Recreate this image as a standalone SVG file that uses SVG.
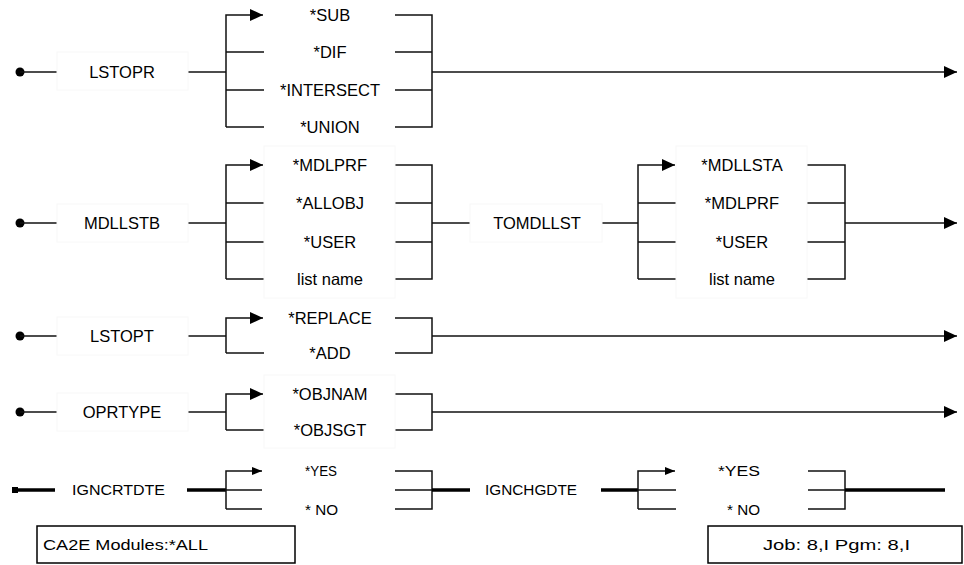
<svg xmlns="http://www.w3.org/2000/svg" width="964" height="565" viewBox="0 0 964 565">
<style>
  .bg { fill: #ffffff; }
  .lbl { font-family: "Liberation Sans", Arial, sans-serif; font-size: 16.5px; fill: #000; text-anchor: middle; }
  .px { font-family: "Liberation Sans", Arial, sans-serif; font-size: 14px; fill: #000; }
  .box { fill: #ffffff; stroke: #f8f8f8; stroke-width: 1; }
  .ln { fill: none; stroke: #111; stroke-width: 1.5; }
  .thick { fill: none; stroke: #000; stroke-width: 3.5; }
  .frame { fill: #ffffff; stroke: #000; stroke-width: 1.5; }
</style>
<defs>
  <marker id="arr" markerUnits="userSpaceOnUse" markerWidth="13" markerHeight="12" refX="13" refY="6" orient="auto">
    <path d="M0,0 L13,6 L0,12 z" fill="#000"/>
  </marker>
  <marker id="arrs" markerUnits="userSpaceOnUse" markerWidth="10" markerHeight="8" refX="10" refY="4" orient="auto">
    <path d="M0,0 L10,4 L0,8 z" fill="#000"/>
  </marker>
</defs>
<rect class="bg" x="0" y="0" width="964" height="565"/>

<g id="connectors">
  <!-- Row 1 LSTOPR -->
  <circle cx="20" cy="72" r="4.5" fill="#000"/>
  <path class="ln" d="M20,72 H57"/>
  <path class="ln" d="M188,72 H226"/>
  <path class="ln" d="M226,127 V15 H263" marker-end="url(#arr)"/>
  <path class="ln" d="M226,52 H264 M226,90 H264 M226,127 H264"/>
  <path class="ln" d="M395,15 H432 V127 H395 M395,52 H432 M395,90 H432"/>
  <path class="ln" d="M432,72 H957" marker-end="url(#arr)"/>

  <!-- Row 2 MDLLSTB / TOMDLLST -->
  <circle cx="20" cy="223" r="4.5" fill="#000"/>
  <path class="ln" d="M20,223 H57"/>
  <path class="ln" d="M188,223 H226"/>
  <path class="ln" d="M226,279 V165 H263" marker-end="url(#arr)"/>
  <path class="ln" d="M226,203 H264 M226,242 H264 M226,279 H264"/>
  <path class="ln" d="M395,165 H432 V279 H395 M395,203 H432 M395,242 H432"/>
  <path class="ln" d="M432,223 H470"/>
  <path class="ln" d="M602,223 H638"/>
  <path class="ln" d="M638,279 V165 H675" marker-end="url(#arr)"/>
  <path class="ln" d="M638,203 H676 M638,242 H676 M638,279 H676"/>
  <path class="ln" d="M807,165 H845 V279 H807 M807,203 H845 M807,242 H845"/>
  <path class="ln" d="M845,223 H957" marker-end="url(#arr)"/>

  <!-- Row 3 LSTOPT -->
  <circle cx="20" cy="336" r="4.5" fill="#000"/>
  <path class="ln" d="M20,336 H57"/>
  <path class="ln" d="M188,336 H226"/>
  <path class="ln" d="M226,353 V318 H263" marker-end="url(#arr)"/>
  <path class="ln" d="M226,353 H264"/>
  <path class="ln" d="M395,318 H432 V353 H395"/>
  <path class="ln" d="M432,336 H957" marker-end="url(#arr)"/>

  <!-- Row 4 OPRTYPE -->
  <circle cx="20" cy="412" r="4.5" fill="#000"/>
  <path class="ln" d="M20,412 H57"/>
  <path class="ln" d="M188,412 H226"/>
  <path class="ln" d="M226,430 V394 H263" marker-end="url(#arr)"/>
  <path class="ln" d="M226,430 H264"/>
  <path class="ln" d="M395,394 H432 V430 H395"/>
  <path class="ln" d="M432,412 H957" marker-end="url(#arr)"/>

  <!-- Row 5 IGNCRTDTE / IGNCHGDTE -->
  <rect x="12" y="487" width="6" height="6" fill="#000"/>
  <path class="thick" d="M15,490 H55"/>
  <path class="thick" d="M187,490 H226"/>
  <path class="ln" d="M226,509 V471 H262" marker-end="url(#arrs)"/>
  <path class="ln" d="M226,490 H262 M226,509 H262"/>
  <path class="ln" d="M395,471 H432 V509 H395 M395,490 H432"/>
  <path class="thick" d="M432,490 H470"/>
  <path class="thick" d="M601,490 H638"/>
  <path class="ln" d="M638,509 V471 H675" marker-end="url(#arrs)"/>
  <path class="ln" d="M638,490 H676 M638,509 H676"/>
  <path class="ln" d="M808,471 H845 V509 H808 M808,490 H845"/>
  <path class="thick" d="M845,490 H945"/>
</g>

<g id="node-lstopr">
  <rect class="box" x="57" y="52" width="131" height="38"/>
  <text class="lbl" x="122" y="78">LSTOPR</text>
</g>
<g id="node-lstopr-values">
  <text class="lbl" x="330" y="21">*SUB</text>
  <text class="lbl" x="330" y="58">*DIF</text>
  <text class="lbl" x="330" y="96">*INTERSECT</text>
  <text class="lbl" x="330" y="133">*UNION</text>
</g>

<g id="node-mdllstb">
  <rect class="box" x="57" y="204" width="131" height="38"/>
  <text class="lbl" x="122" y="229">MDLLSTB</text>
</g>
<g id="node-mdllstb-values">
  <rect class="box" x="264" y="146" width="131" height="152"/>
  <text class="lbl" x="330" y="171">*MDLPRF</text>
  <text class="lbl" x="330" y="209">*ALLOBJ</text>
  <text class="lbl" x="330" y="248">*USER</text>
  <text class="lbl" x="330" y="285">list name</text>
</g>
<g id="node-tomdllst">
  <rect class="box" x="470" y="204" width="132" height="38"/>
  <text class="lbl" x="537" y="229">TOMDLLST</text>
</g>
<g id="node-tomdllst-values">
  <rect class="box" x="676" y="146" width="131" height="152"/>
  <text class="lbl" x="742" y="171">*MDLLSTA</text>
  <text class="lbl" x="742" y="209">*MDLPRF</text>
  <text class="lbl" x="742" y="248">*USER</text>
  <text class="lbl" x="742" y="285">list name</text>
</g>

<g id="node-lstopt">
  <rect class="box" x="57" y="317" width="131" height="38"/>
  <text class="lbl" x="122" y="342">LSTOPT</text>
</g>
<g id="node-lstopt-values">
  <text class="lbl" x="330" y="324">*REPLACE</text>
  <text class="lbl" x="330" y="359">*ADD</text>
</g>

<g id="node-oprtype">
  <rect class="box" x="57" y="393" width="131" height="38"/>
  <text class="lbl" x="122" y="418">OPRTYPE</text>
</g>
<g id="node-oprtype-values">
  <rect class="box" x="264" y="375" width="131" height="73"/>
  <text class="lbl" x="330" y="400">*OBJNAM</text>
  <text class="lbl" x="330" y="436">*OBJSGT</text>
</g>

<g id="node-igncrtdte">
  <text class="px" x="72" y="495" textLength="93" lengthAdjust="spacingAndGlyphs">IGNCRTDTE</text>
</g>
<g id="node-igncrtdte-values">
  <text class="px" x="305" y="476" textLength="32" lengthAdjust="spacingAndGlyphs">*YES</text>
  <text class="px" x="305" y="515" textLength="33" lengthAdjust="spacingAndGlyphs">* NO</text>
</g>
<g id="node-ignchgdte">
  <text class="px" x="485" y="495" textLength="92" lengthAdjust="spacingAndGlyphs">IGNCHGDTE</text>
</g>
<g id="node-ignchgdte-values">
  <text class="px" x="718" y="476" textLength="42" lengthAdjust="spacingAndGlyphs">*YES</text>
  <text class="px" x="727" y="515" textLength="33" lengthAdjust="spacingAndGlyphs">* NO</text>
</g>

<g id="node-modules">
  <rect class="frame" x="37" y="526" width="258" height="37"/>
  <text class="px" x="43" y="550" textLength="165" lengthAdjust="spacingAndGlyphs">CA2E Modules:*ALL</text>
</g>
<g id="node-jobpgm">
  <rect class="frame" x="708" y="526" width="254" height="37"/>
  <text class="px" x="763" y="550" textLength="147" lengthAdjust="spacingAndGlyphs">Job: 8,I  Pgm: 8,I</text>
</g>
</svg>
